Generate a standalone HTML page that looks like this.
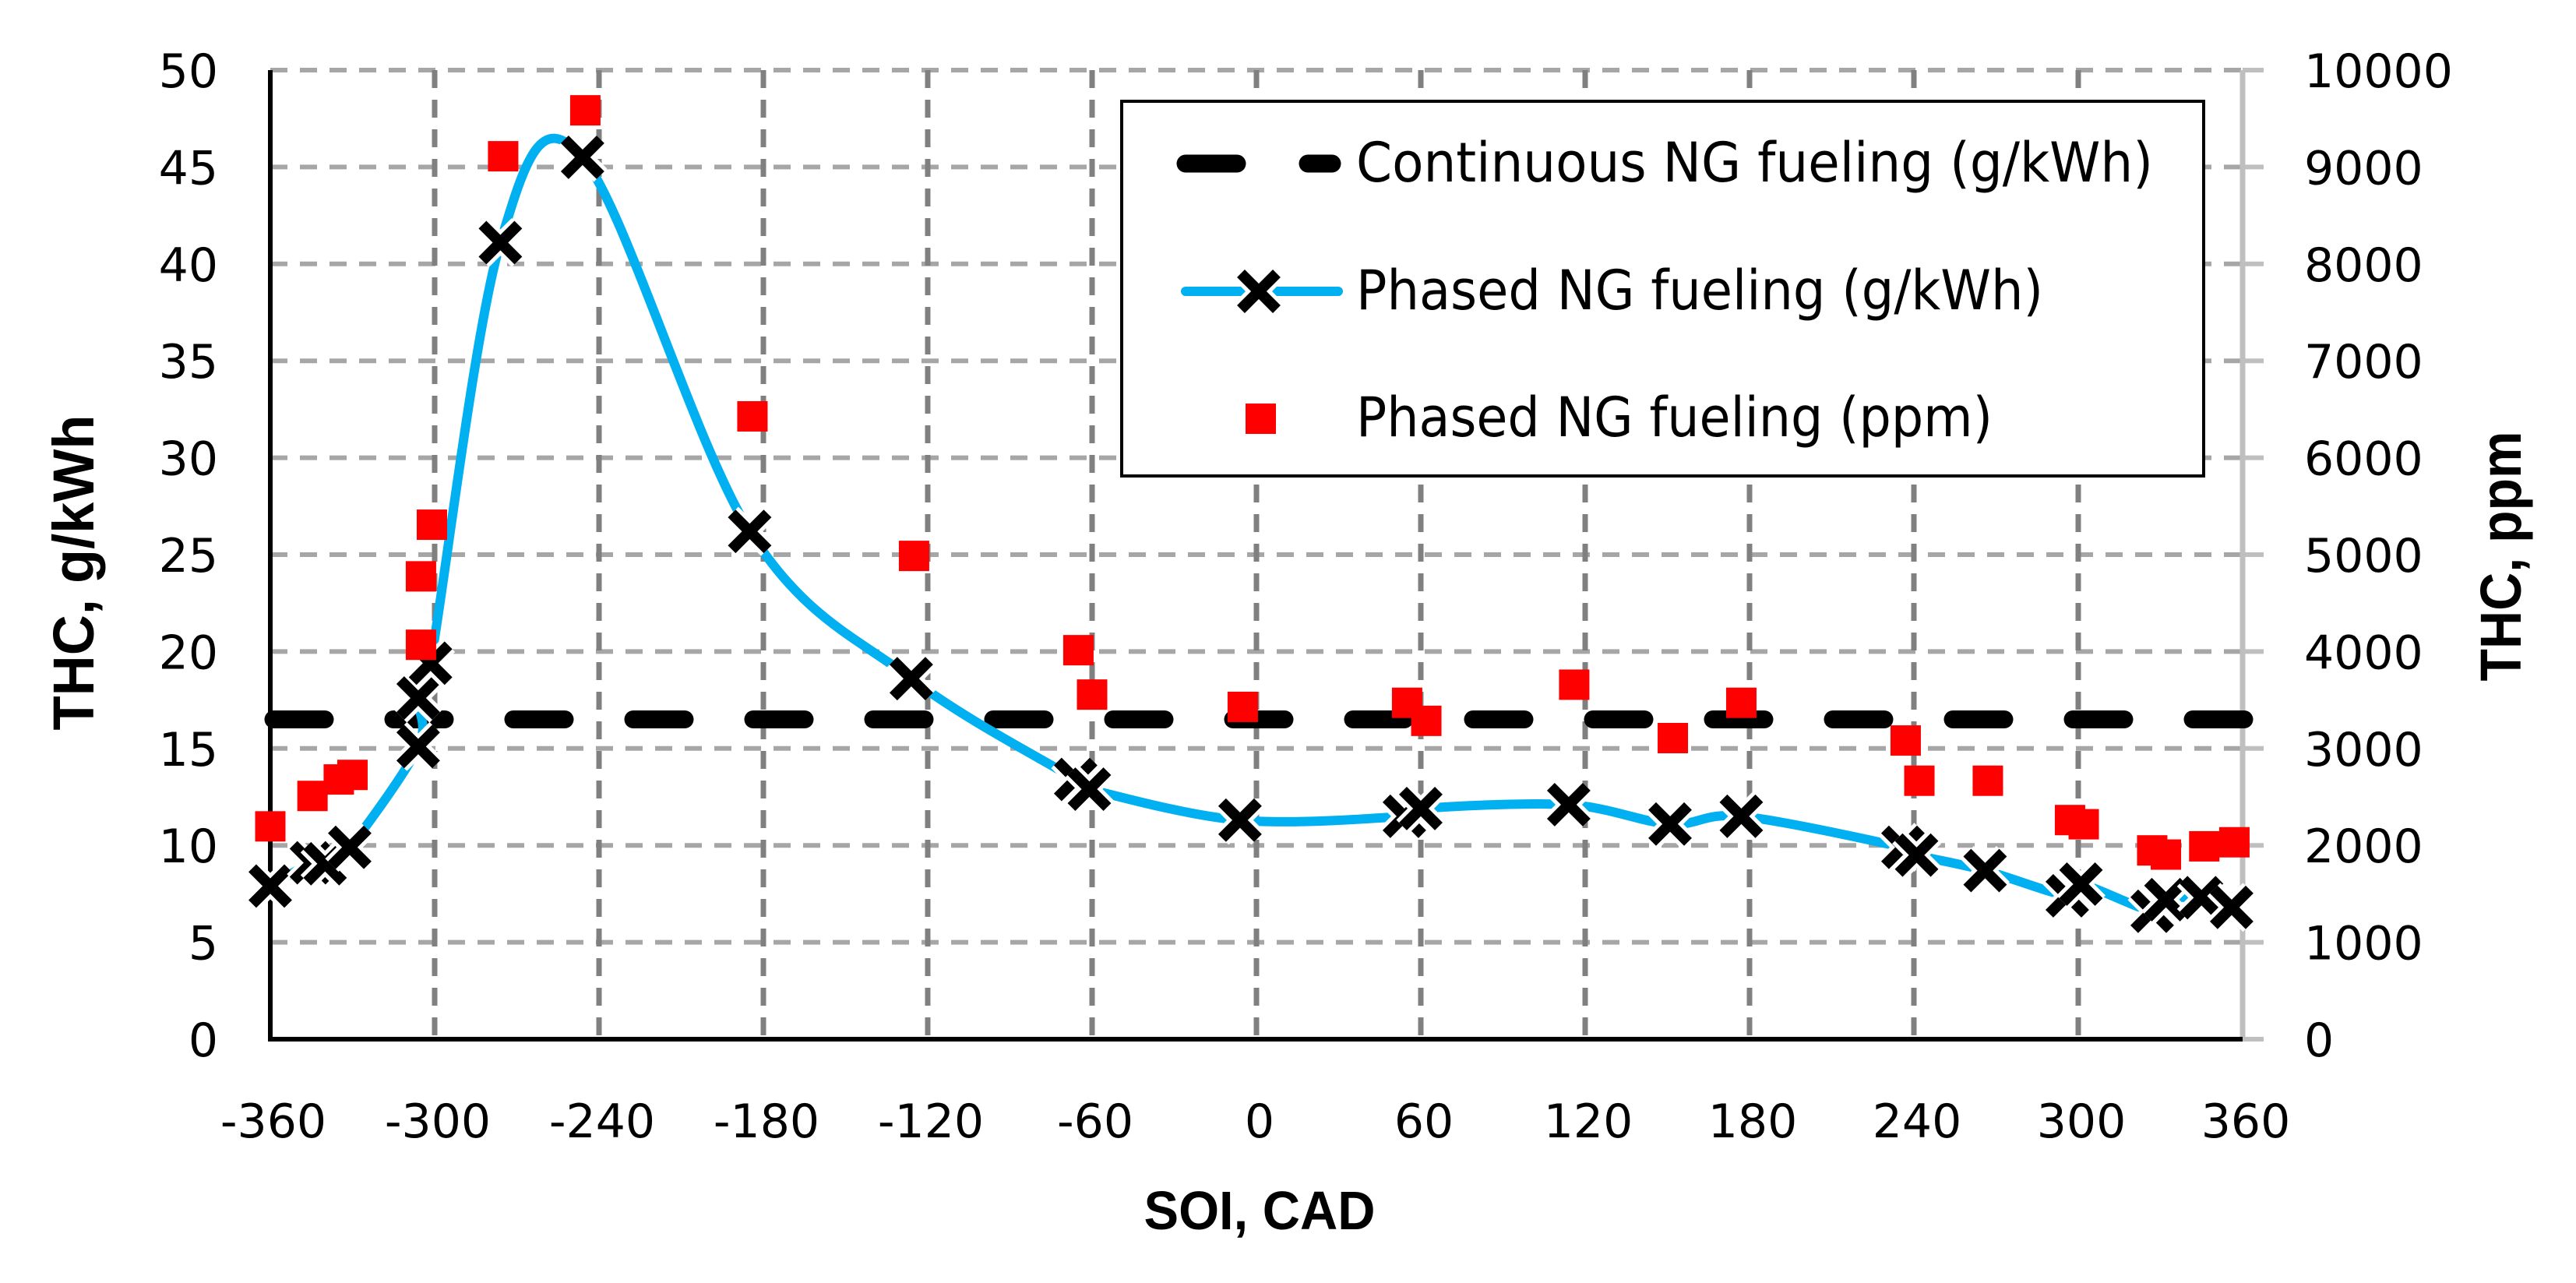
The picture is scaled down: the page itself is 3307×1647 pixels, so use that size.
<!DOCTYPE html>
<html><head><meta charset="utf-8"><style>
html,body{margin:0;padding:0;background:#fff;}
svg{display:block;}
text{font-family:"DejaVu Sans","Liberation Sans",sans-serif;fill:#000;}
</style></head><body>
<svg id="chart" width="3307" height="1647" viewBox="0 0 3307 1647" xmlns="http://www.w3.org/2000/svg">
<g id="grid"></g>
<g id="axes"></g>
<g id="series"></g>
<g id="legend"></g>
</svg>
<script>
const xTicks = [-360,-300,-240,-180,-120,-60,0,60,120,180,240,300,360];
const yLeftTicks = [0,5,10,15,20,25,30,35,40,45,50];
const yRightTicks = [0,1000,2000,3000,4000,5000,6000,7000,8000,9000,10000];
const continuousValue = 16.5;
const phasedSOI = [-360,-345,-340,-331,-306,-306,-301.5,-276,-246,-185,-126,-66,-61,-6,54,60,114,151,177,236,241,266,296,301,327,332,345,356];
const phasedGkwh = [7.9,9.1,9.05,9.9,15.1,17.6,19.4,41.1,45.5,26.2,18.6,13.4,12.9,11.3,11.5,11.9,12.1,11.1,11.5,9.9,9.5,8.7,7.4,8.0,6.6,7.2,7.3,6.8];
const ppmSOI = [-360,-344.6,-335,-330,-305,-305,-301,-275,-245,-184,-125,-65,-60,-5,55,62,116,152,177,237,242,267,297,302,327,332,346,357];
const ppmValues = [2196,2510,2680,2727,4070,4776,5309,9111,9585,6427,4987,4014,3556,3429,3471,3285,3658,3107,3471,3082,2667,2667,2261,2218,1948,1905,1990,2032];

const NS="http://www.w3.org/2000/svg";
const X0=347,X1=2879,YT=90,YB=1334;
const xs=v=>X0+(v+360)/720*(X1-X0);
const yl=v=>YB-v/50*(YB-YT);
const yr=v=>YB-v/10000*(YB-YT);
function mk(tag,attrs,parent){const e=document.createElementNS(NS,tag);for(const k in attrs)e.setAttribute(k,attrs[k]);parent.appendChild(e);return e;}
const grid=document.getElementById('grid'),axes=document.getElementById('axes'),series=document.getElementById('series'),legend=document.getElementById('legend');

yLeftTicks.forEach(t=>{ if(t===0)return;
  const l=mk('line',{x1:X0,x2:X1,y1:yl(t),y2:yl(t),stroke:'#a6a6a6','stroke-width':6,'stroke-dasharray':'22 16'},grid);
  
  
});
xTicks.forEach(t=>{ if(t===-360)return;
  const l=mk('line',{x1:xs(t),x2:xs(t),y1:YT,y2:YB,stroke:'#808080','stroke-width':t===360?3:7,'stroke-dasharray':'23 15'},grid);
  
  
});
let ra=mk('line',{x1:X1,x2:X1,y1:YT,y2:YB,stroke:'#bfbfbf','stroke-width':7},axes);


yRightTicks.forEach(t=>{
  const tk=mk('line',{x1:X1,x2:2906,y1:yr(t),y2:yr(t),stroke:'#bfbfbf','stroke-width':6},axes);
  
  
  const tx=mk('text',{x:2958,y:yr(t)+22,'font-size':60},axes);tx.textContent=t;
  
  
});
yLeftTicks.forEach(t=>{
  const tx=mk('text',{x:280,y:yl(t)+22,'font-size':60,'text-anchor':'end'},axes);tx.textContent=t;
  
  
});
xTicks.forEach(t=>{
  const tx=mk('text',{x:xs(t)+4,y:1460,'font-size':60,'text-anchor':'middle'},axes);tx.textContent=t;
  
  
});
let la=mk('line',{x1:X0,x2:X0,y1:YT,y2:YB+3,stroke:'#000','stroke-width':6},axes);


let ba=mk('line',{x1:X0-3,x2:X1,y1:YB,y2:YB,stroke:'#000','stroke-width':6},axes);



let xt=mk('text',{x:1617,y:1578,'font-size':70,'font-weight':'bold','text-anchor':'middle',textLength:297,lengthAdjust:'spacingAndGlyphs',style:'font-family:"Liberation Sans",sans-serif'},axes);xt.textContent='SOI, CAD';


let ylt=mk('text',{x:0,y:0,'font-size':74,'font-weight':'bold','text-anchor':'middle',textLength:405,lengthAdjust:'spacingAndGlyphs',transform:'translate(120,735) rotate(-90)',style:'font-family:"Liberation Sans",sans-serif'},axes);ylt.textContent='THC, g/kWh';


let yrt=mk('text',{x:0,y:0,'font-size':74,'font-weight':'bold','text-anchor':'middle',textLength:321,lengthAdjust:'spacingAndGlyphs',transform:'translate(3236,714) rotate(-90)',style:'font-family:"Liberation Sans",sans-serif'},axes);yrt.textContent='THC, ppm';



let cl=mk('line',{x1:X0+4,x2:2884,y1:yl(continuousValue),y2:yl(continuousValue),stroke:'#000','stroke-width':23,'stroke-linecap':'round','stroke-dasharray':'66 88'},series);



const pts=phasedSOI.map((s,i)=>[xs(s),yl(phasedGkwh[i])]);
let d='M'+pts[0][0]+','+pts[0][1];
for(let i=0;i<pts.length-1;i++){
  const p0=pts[Math.max(0,i-1)],p1=pts[i],p2=pts[i+1],p3=pts[Math.min(pts.length-1,i+2)];
  const t=1/6;
  d+=' C'+(p1[0]+(p2[0]-p0[0])*t)+','+(p1[1]+(p2[1]-p0[1])*t)+' '+(p2[0]-(p3[0]-p1[0])*t)+','+(p2[1]-(p3[1]-p1[1])*t)+' '+p2[0]+','+p2[1];
}
let cv=mk('path',{d:d,fill:'none',stroke:'#00b0f0','stroke-width':12},series);



function xMarker(cx,cy,parent,name){
  const g=mk('g',{},parent);
  
  
  const s=23;
  mk('path',{d:`M${cx-s},${cy-s}L${cx+s},${cy+s}M${cx-s},${cy+s}L${cx+s},${cy-s}`,stroke:'#fff','stroke-width':24},g);
  mk('path',{d:`M${cx-s},${cy-s}L${cx+s},${cy+s}M${cx-s},${cy+s}L${cx+s},${cy-s}`,stroke:'#000','stroke-width':14},g);
}
phasedSOI.forEach((s,i)=>xMarker(xs(s),yl(phasedGkwh[i]),series,'phased-gkwh-marker'));
ppmSOI.forEach((s,i)=>{
  const r=mk('rect',{x:xs(s)-19.5,y:yr(ppmValues[i])-19.5,width:39,height:39,fill:'#ff0000'},series);
  
  
});

let lb=mk('rect',{x:1440,y:130,width:1389,height:481,fill:'#fff',stroke:'#000','stroke-width':4},legend);


let l1=mk('path',{d:'M1522,210L1588,210M1679,210L1710,210',stroke:'#000','stroke-width':23,'stroke-linecap':'round'},legend);


let l2=mk('line',{x1:1522,x2:1718,y1:374,y2:374,stroke:'#00b0f0','stroke-width':12,'stroke-linecap':'round'},legend);


xMarker(1616,374,legend,'legend-x-marker');
let l3=mk('rect',{x:1599,y:518,width:39,height:39,fill:'#ff0000'},legend);


[['Continuous NG fueling (g/kWh)',233,1023],['Phased NG fueling (g/kWh)',397,882],['Phased NG fueling (ppm)',560,817]].forEach(([t,y,w])=>{
  const tx=mk('text',{x:1741,y:y,'font-size':70,textLength:w,lengthAdjust:'spacingAndGlyphs'},legend);tx.textContent=t;
  
  
});
</script>
</body></html>
